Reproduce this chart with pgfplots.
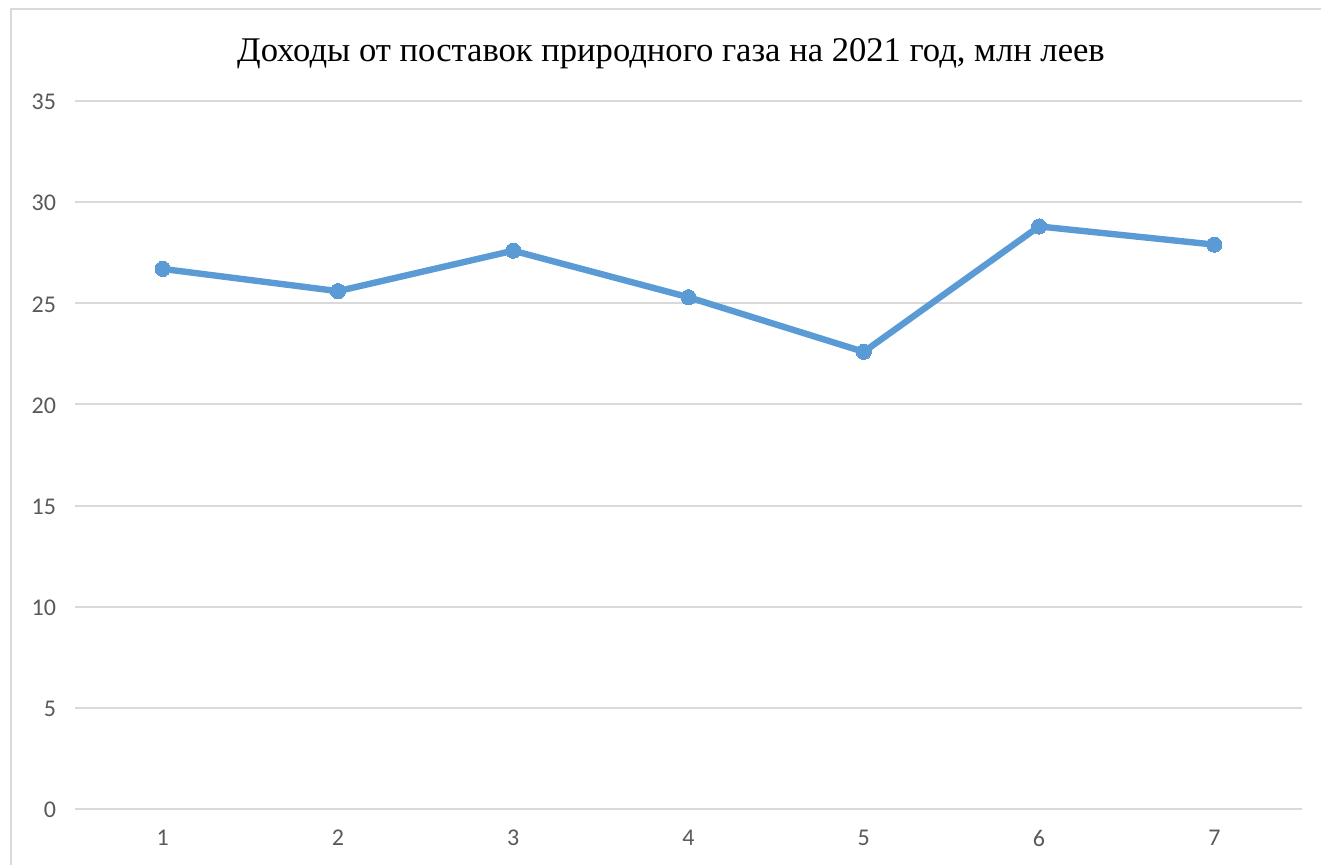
\documentclass[border=0pt]{standalone}
\usepackage{pgfplots}
\pgfplotsset{compat=1.18}
\usepackage{fontspec}
\setmainfont{Liberation Serif}
\newfontfamily\calibri{Carlito}
\definecolor{lineblue}{HTML}{5B9BD5}
\definecolor{gridgray}{HTML}{D9D9D9}
\definecolor{ticktext}{HTML}{595959}
\begin{document}
\begin{tikzpicture}
\useasboundingbox (0pt,0pt) rectangle (660.5pt,432pt);
\draw[gridgray, line width=1pt] (5.5pt,-10pt) -- (5.5pt,427.5pt) -- (670pt,427.5pt);
\node[font=\fontsize{17.3}{21}\selectfont, anchor=base] at (335.5pt,401pt) {Доходы от поставок природного газа на 2021 год, млн леев};
\begin{axis}[
  at={(37.5pt,27.5pt)}, anchor=south west,
  scale only axis, width=613.5pt, height=354pt,
  xmin=0.5, xmax=7.5, ymin=0, ymax=35,
  xtick={1,...,7}, ytick={0,5,...,35},
  axis line style={draw=none},
  major tick length=0pt,
  ymajorgrids, grid style={gridgray, line width=1pt},
  tick label style={font=\calibri\fontsize{12}{14}\selectfont, text=ticktext},
  /pgf/number format/assume math mode=true,
  yticklabel style={xshift=-6pt, yshift=-0.5pt},
  xticklabel style={yshift=-7pt},
  clip=false,
]
\addplot[gridgray, line width=1pt] coordinates {(0.5,0) (7.5,0)};
\addplot[lineblue, line width=3.2pt, mark=*, mark size=3.8pt, mark options={fill=lineblue, draw=lineblue, line width=0pt}] coordinates {
(1,26.7) (2,25.6) (3,27.6) (4,25.3) (5,22.6) (6,28.8) (7,27.9)};
\end{axis}
\end{tikzpicture}
\end{document}
